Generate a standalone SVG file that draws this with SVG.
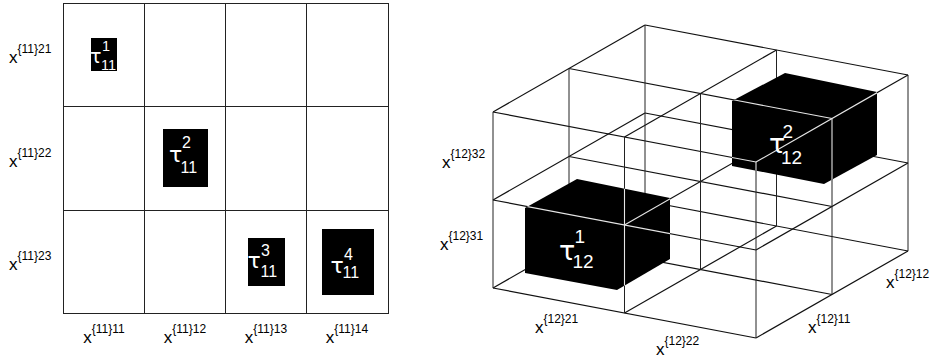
<svg xmlns="http://www.w3.org/2000/svg" width="930" height="363" viewBox="0 0 930 363">
<style>
.g{stroke:#222;stroke-width:1;fill:none}
.d{stroke:#111;stroke-width:1.2;fill:none}
.w{stroke:#e6e6e6;stroke-width:1.1;fill:none}
.lb{font-family:"Liberation Sans",Arial,sans-serif;font-size:17px;fill:#000}
.sp{font-size:12px}
.tw{font-family:"Liberation Sans",Arial,sans-serif;fill:#fff}
.tau{font-family:"DejaVu Sans","Liberation Sans",sans-serif;fill:#fff}
</style>
<defs>
<clipPath id="c1"><polygon points="525,208 577,179 670,198 670,259 617,290 525,273"/></clipPath>
<clipPath id="c2"><polygon points="732,101 785,73 877,92 877,155 824,184 732,166"/></clipPath>
</defs>
<rect width="930" height="363" fill="#fff"/>

<!-- Left 2D grid -->
<g id="grid2d">
<rect class="g" x="63.5" y="3.5" width="325" height="310"/>
<line class="g" x1="144.5" y1="3.5" x2="144.5" y2="313.5"/>
<line class="g" x1="225.5" y1="3.5" x2="225.5" y2="313.5"/>
<line class="g" x1="306.5" y1="3.5" x2="306.5" y2="313.5"/>
<line class="g" x1="63.5" y1="106.5" x2="388.5" y2="106.5"/>
<line class="g" x1="63.5" y1="210.5" x2="388.5" y2="210.5"/>
</g>

<g id="tau11-1">
<rect x="91" y="38" width="26" height="33" fill="#000"/>
<text class="tau" x="90" y="63" font-size="19">τ</text>
<text class="tw" x="102" y="51" font-size="14.5">1</text>
<text class="tw" x="101" y="70" font-size="14.5">11</text>
</g>
<g id="tau11-2">
<rect x="163" y="129" width="45" height="58" fill="#000"/>
<text class="tau" x="169" y="161.5" font-size="22">τ</text>
<text class="tw" x="182" y="147.5" font-size="16">2</text>
<text class="tw" x="180.5" y="173" font-size="16">11</text>
</g>
<g id="tau11-3">
<rect x="248" y="238" width="37" height="48" fill="#000"/>
<text class="tau" x="247.5" y="268" font-size="22">τ</text>
<text class="tw" x="261" y="256" font-size="16">3</text>
<text class="tw" x="260.5" y="277" font-size="16">11</text>
</g>
<g id="tau11-4">
<rect x="322" y="229" width="52" height="66" fill="#000"/>
<text class="tau" x="330.5" y="272.5" font-size="22">τ</text>
<text class="tw" x="344" y="259.5" font-size="16">4</text>
<text class="tw" x="342.5" y="277.5" font-size="16">11</text>
</g>

<g id="labels-left" class="lb">
<text x="9" y="63">x<tspan class="sp" dy="-10">{11}21</tspan></text>
<text x="9" y="167">x<tspan class="sp" dy="-10">{11}22</tspan></text>
<text x="9" y="270">x<tspan class="sp" dy="-10">{11}23</tspan></text>
<text x="104" y="343" text-anchor="middle">x<tspan class="sp" dy="-10">{11}11</tspan></text>
<text x="185" y="343" text-anchor="middle">x<tspan class="sp" dy="-10">{11}12</tspan></text>
<text x="266" y="343" text-anchor="middle">x<tspan class="sp" dy="-10">{11}13</tspan></text>
<text x="347" y="343" text-anchor="middle">x<tspan class="sp" dy="-10">{11}14</tspan></text>
</g>

<!-- Right 3D lattice -->
<g id="grid3d">
<line class="d" x1="493" y1="288" x2="756" y2="338"/>
<line class="d" x1="493" y1="200" x2="756" y2="250"/>
<line class="d" x1="493" y1="112" x2="756" y2="162"/>
<line class="d" x1="569" y1="244.5" x2="832" y2="294.5"/>
<line class="d" x1="569" y1="156.5" x2="832" y2="206.5"/>
<line class="d" x1="569" y1="68.5" x2="832" y2="118.5"/>
<line class="d" x1="645" y1="201" x2="908" y2="251"/>
<line class="d" x1="645" y1="113" x2="908" y2="163"/>
<line class="d" x1="645" y1="25" x2="908" y2="75"/>
<line class="d" x1="493" y1="288" x2="645" y2="201"/>
<line class="d" x1="493" y1="200" x2="645" y2="113"/>
<line class="d" x1="493" y1="112" x2="645" y2="25"/>
<line class="d" x1="624.5" y1="313" x2="776.5" y2="226"/>
<line class="d" x1="624.5" y1="225" x2="776.5" y2="138"/>
<line class="d" x1="624.5" y1="137" x2="776.5" y2="50"/>
<line class="d" x1="756" y1="338" x2="908" y2="251"/>
<line class="d" x1="756" y1="250" x2="908" y2="163"/>
<line class="d" x1="756" y1="162" x2="908" y2="75"/>
<line class="g" x1="493" y1="112" x2="493" y2="288"/>
<line class="g" x1="569" y1="68.5" x2="569" y2="244.5"/>
<line class="g" x1="645" y1="25" x2="645" y2="201"/>
<line class="g" x1="624.5" y1="137" x2="624.5" y2="313"/>
<line class="g" x1="700.5" y1="93.5" x2="700.5" y2="269.5"/>
<line class="g" x1="776.5" y1="50" x2="776.5" y2="226"/>
<line class="g" x1="756" y1="162" x2="756" y2="338"/>
<line class="g" x1="832" y1="118.5" x2="832" y2="294.5"/>
<line class="g" x1="908" y1="75" x2="908" y2="251"/>
</g>

<g id="tau12-1">
<polygon points="525,208 577,179 670,198 670,259 617,290 525,273" fill="#000"/>
<g clip-path="url(#c1)">
<line class="w" x1="493" y1="200" x2="756" y2="250"/>
<line class="w" x1="624.5" y1="225" x2="776.5" y2="138"/>
<line class="w" x1="624.5" y1="137" x2="624.5" y2="313"/>
</g>
<text class="tau" x="559" y="260" font-size="27">τ</text>
<text class="tw" x="574.5" y="242.5" font-size="19">1</text>
<text class="tw" x="572.5" y="267.5" font-size="19">12</text>
</g>

<g id="tau12-2">
<polygon points="732,101 785,73 877,92 877,155 824,184 732,166" fill="#000"/>
<g clip-path="url(#c2)">
<line class="w" x1="756" y1="162" x2="908" y2="75"/>
<line class="w" x1="569" y1="68.5" x2="832" y2="118.5"/>
<line class="w" x1="493" y1="112" x2="756" y2="162"/>
<line class="w" x1="756" y1="162" x2="756" y2="338"/>
<line class="w" x1="832" y1="118.5" x2="832" y2="294.5"/>
</g>
<text class="tau" x="769" y="153" font-size="27">τ</text>
<text class="tw" x="782.5" y="137.5" font-size="19">2</text>
<text class="tw" x="781" y="163.5" font-size="19">12</text>
</g>

<g id="labels-right" class="lb">
<text x="442" y="168">x<tspan class="sp" dy="-10">{12}32</tspan></text>
<text x="440" y="250">x<tspan class="sp" dy="-10">{12}31</tspan></text>
<text x="535" y="333">x<tspan class="sp" dy="-10">{12}21</tspan></text>
<text x="656" y="355">x<tspan class="sp" dy="-10">{12}22</tspan></text>
<text x="808" y="333">x<tspan class="sp" dy="-10">{12}11</tspan></text>
<text x="886" y="288">x<tspan class="sp" dy="-10">{12}12</tspan></text>
</g>
</svg>
